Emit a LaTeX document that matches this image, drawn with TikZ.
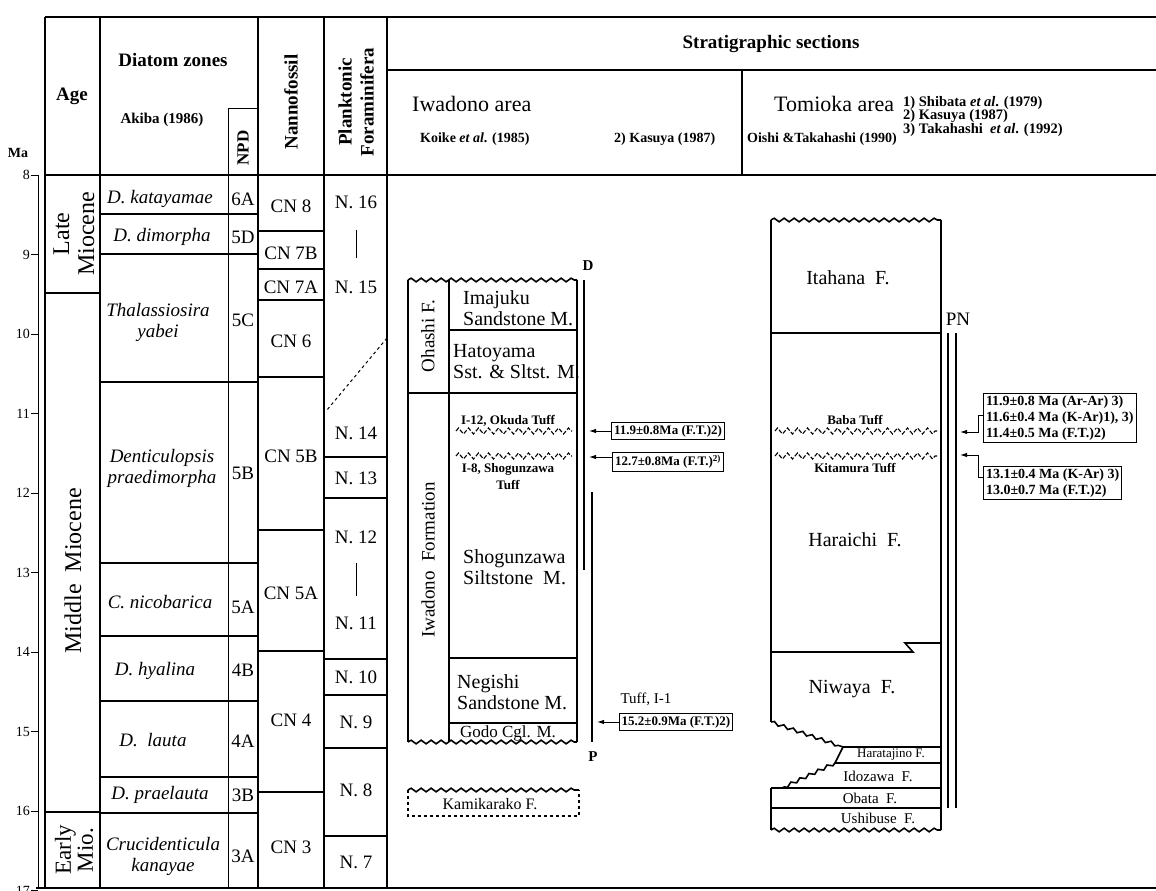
\documentclass[tikz,border=0pt]{standalone}
\usepackage{fontspec}
\setmainfont{Liberation Serif}
\usetikzlibrary{arrows.meta,decorations.pathmorphing,positioning}
\newcommand\fs[2]{\fontsize{#1}{#2}\selectfont}

\begin{document}
\begin{tikzpicture}[x=1pt,y=-1pt,
    frame/.style={line width=2.6pt},
    cell/.style={line width=1.6pt},
    thin/.style={line width=1pt},
    hd/.style={font=\fs{19}{22}\bfseries,align=center,inner sep=0pt},
    ref/.style={font=\fs{14}{13.5}\bfseries,align=left,inner sep=0pt},
    agetxt/.style={rotate=90,font=\fs{24}{25},align=center,inner sep=0pt},
    zone/.style={font=\fs{19}{21},align=center,inner sep=0pt},
    zit/.style={zone,font=\fs{19}{21}\itshape},
    fm/.style={font=\fs{20}{21},align=left,inner sep=0pt},
    tf/.style={font=\fs{13}{17}\bfseries,align=center,inner sep=0pt},
    datebox/.style={draw,line width=1pt,font=\fs{13}{15}\bfseries,align=left,inner sep=2.5pt},
    arr/.style={-{Latex[length=7pt,width=4.5pt]},line width=1pt},
    wavy/.style={decorate,decoration={snake,segment length=10pt,amplitude=1.8pt}},
    tuff/.style={decorate,decoration={zigzag,segment length=10pt,amplitude=3pt},
                 dash pattern=on 4.2pt off 2pt,line width=1.1pt}
  ]
  \useasboundingbox (0,0) rectangle (1156,891);

  % frame and columns
  \draw[frame] (45,17) -- (1156,17);
  \draw[frame] (45,17) -- (45,888);
  \draw[frame] (36,888) -- (1156,888);
  \draw[thin] (38,175) -- (38,888);
  \draw[cell] (45,175) -- (1156,175);
  \foreach \x in {100,258,324,387}
    \draw[cell] (\x,17) -- (\x,888);
  \draw[thin] (228,108) -- (258,108);
  \draw[thin] (228,108) -- (228,888);
  \draw[cell] (387,70) -- (1156,70);
  \draw[cell] (742,70) -- (742,175);

  % time axis
  \node[font=\fs{14}{14}\bfseries] (Ma) at (18,153) {Ma};
  \foreach \m in {8,...,17} {
    \draw[thin] (31,{175+(\m-8)*79.5}) -- (38,{175+(\m-8)*79.5});
    \node[anchor=east,font=\fs{14}{14},inner sep=1pt] (T\m) at (31,{175+(\m-8)*79.5}) {\m};
  }

  % headers
  \node[hd] (Hage) at (72,96) {Age};
  \node[hd] (Hdia) at (173,60) {Diatom zones};
  \node[font=\fs{15}{15}\bfseries] (Hakb) at (162,120) {Akiba (1986)};
  \node[hd,rotate=90,font=\fs{17}{17}\bfseries] (Hnpd) at (243,148) {NPD};
  \node[hd,rotate=90] (Hnan) at (291,102) {Nannofossil};
  \node[hd,rotate=90] (Hfor) at (356,102) {Planktonic\\Foraminifera};
  \node[hd] (Hsec) at (771,44) {Stratigraphic sections};
  \node[font=\fs{22}{22},anchor=west,inner sep=0pt] (Hiwa) at (412,104) {Iwadono area};
  \node[ref,anchor=west] (Rkoi) at (420,139) {Koike \textit{et al}. (1985)};
  \node[ref,anchor=west] (Rkas) at (614,139) {2) Kasuya (1987)};
  \node[font=\fs{22}{22},anchor=west,inner sep=0pt] (Htom) at (774,104) {Tomioka area};
  \node[ref,anchor=west] (Roi) at (747,139) {Oishi \&Takahashi (1990)};
  \node[ref,anchor=north west,font=\fs{14.5}{13.5}\bfseries] (Rlist) at (903,96)
    {1) Shibata \textit{et al}. (1979)\\2) Kasuya (1987)\\3) Takahashi \ \textit{et al}. (1992)};

  % age
  \draw[cell] (45,293) -- (100,293);
  \draw[cell] (45,812) -- (100,812);
  \node[agetxt] (Late) at (74,234) {Late\\Miocene};
  \node[agetxt] (Mid) at (73,571) {Middle~~Miocene};
  \node[agetxt,font=\fs{23}{22}] (Early) at (74,850) {Early\\Mio.};

  % diatom zones
  \foreach \y in {214,254,382,563,636,701,777,813}
    \draw[cell] (100,\y) -- (258,\y);
  \node[zit] (Dkat) at (160,199) {D. katayamae};
  \node[zit] (Ddim) at (162,237) {D. dimorpha};
  \node[zit] (Dtha) at (158,322) {Thalassiosira\\yabei};
  \node[zit] (Dden) at (162,468) {Denticulopsis\\praedimorpha};
  \node[zit] (Dnic) at (160,602) {C. nicobarica};
  \node[zit] (Dhya) at (155,671) {D. hyalina};
  \node[zit] (Dlau) at (153,740) {D.\ \ lauta};
  \node[zit] (Dpra) at (160,795) {D. praelauta};
  \node[zit] (Dkan) at (163,856) {Crucidenticula\\kanayae};
  \foreach \y/\z in {199/6A,237/5D,320/5C,473/5B,607/5A,670/4B,741/4A,795/3B,856/3A}
    \node[zone] (Z\z) at (243,\y) {\z};

  % nannofossil zones
  \foreach \y in {231,269,300,377,530,651,792}
    \draw[cell] (258,\y) -- (324,\y);
  \foreach \y/\z in {206/8,253/7B,287/7A,341/6,456/5B,593/5A,720/4,847/3}
    \node[zone] (CN\z) at (291,\y) {CN \z};

  % planktonic foraminifera
  \foreach \y in {457,498,659,695,748,836}
    \draw[cell] (324,\y) -- (387,\y);
  \foreach \y/\z in {202/16,287/15,433/14,478/13,537/12,623/11,677/10,722/9,790/8,862/7}
    \node[zone] (N\z) at (356,\y) {N. \z};
  \draw[thin] (356,230) -- (356,258);
  \draw[thin] (356,563) -- (356,596);
  \draw[thin,dashed] (387,338) -- (327,410);

  % Iwadono section
  \draw[cell,wavy] (408,280) -- (577,280);
  \draw[cell,wavy] (408,742) -- (577,742);
  \draw[cell] (408,280) -- (408,742);
  \draw[cell] (449,280) -- (449,742);
  \draw[cell] (577,280) -- (577,742);
  \draw[cell] (449,330) -- (577,330);
  \draw[cell] (408,393) -- (577,393);
  \draw[cell] (449,658) -- (577,658);
  \draw[cell] (449,723) -- (577,723);
  \node[fm,rotate=90,font=\fs{19}{19}] (Ohashi) at (428,336) {Ohashi F.};
  \node[fm,rotate=90,font=\fs{19}{19}] (IwaF) at (428,560) {Iwadono~~Formation};
  \node[fm,anchor=west] (Ima) at (463,308) {Imajuku\\Sandstone M.};
  \node[fm,anchor=west] (Hato) at (453,362) {Hatoyama\\Sst. \& Sltst. M.};
  \node[tf] (Oku) at (508,421) {I-12, Okuda Tuff};
  \draw[tuff] (456,431) -- (572,431);
  \draw[tuff] (456,456) -- (572,456);
  \node[tf] (Sho) at (508,477) {I-8, Shogunzawa\\Tuff};
  \node[fm,anchor=west] (Shog) at (463,567) {Shogunzawa\\Siltstone\ \ M.};
  \node[fm,anchor=west] (Neg) at (457,692) {Negishi\\Sandstone M.};
  \node[fm,font=\fs{17}{17}] (Godo) at (508,733) {Godo Cgl. M.};
  % ranges
  \draw[cell] (584,280) -- (584,570);
  \draw[cell] (592,492) -- (592,742);
  \node[font=\fs{15}{15}\bfseries] (D) at (588,266) {D};
  \node[font=\fs{15}{15}\bfseries] (P) at (593,757) {P};
  % dates
  \node[datebox] (I12) at (668,431) {11.9±0.8Ma (F.T.)2)};
  \node[datebox] (I8) at (668,462) {12.7±0.8Ma (F.T.)\textsuperscript{2)}};
  \node[font=\fs{15}{15}] (TI1) at (646,699) {Tuff, I-1};
  \node[datebox] (I1) at (676,722) {15.2±0.9Ma (F.T.)2)};
  \coordinate (aI12) at (589,431);
  \coordinate (aI8) at (589,457);
  \coordinate (aI1) at (597,722);
  \draw[arr] (I12.west) -- (aI12);
  \draw[arr] (I8.west |- aI8) -- (aI8);
  \draw[arr] (I1.west) -- (aI1);
  % Kamikarako
  \draw[cell,wavy] (408,790) -- (579,790);
  \draw[cell,dashed] (408,790) -- (408,816) -- (579,816) -- (579,790);
  \node[fm,font=\fs{16}{16}] (Kami) at (490,804) {Kamikarako F.};

  % Tomioka section
  \draw[cell,wavy] (771,220) -- (941,220);
  \draw[cell] (771,220) -- (771,722);
  \draw[cell] (941,220) -- (941,830);
  \draw[cell] (771,333) -- (941,333);
  \draw[cell] (771,652) -- (913,652) -- (905,643) -- (941,643);
  \draw[cell,decorate,decoration={snake,segment length=10pt,amplitude=1.6pt}] (771,722) -- (843,747);
  \draw[cell] (843,747) -- (941,747);
  \draw[cell] (843,747) -- (835,763) -- (941,763);
  \draw[cell,decorate,decoration={snake,segment length=10pt,amplitude=1.6pt}] (835,763) -- (782,788);
  \draw[cell] (771,788) -- (941,788);
  \draw[cell] (771,788) -- (771,830);
  \draw[cell] (771,808) -- (941,808);
  \draw[cell,wavy] (771,830) -- (941,830);
  \node[fm] (Ita) at (848,278) {Itahana~~F.};
  \node[tf] (Baba) at (855,420) {Baba~Tuff};
  \draw[tuff] (775,431) -- (937,431);
  \draw[tuff] (775,456) -- (937,456);
  \node[tf] (Kita) at (855,468) {Kitamura Tuff};
  \node[fm] (Har) at (855,540) {Haraichi~~F.};
  \node[fm] (Niw) at (852,689) {Niwaya~~F.};
  \node[fm,font=\fs{13}{13}] (Hara) at (891,755) {Haratajino F.};
  \node[fm,font=\fs{15}{15}] (Ido) at (878,776) {Idozawa~~F.};
  \node[fm,font=\fs{15}{15}] (Oba) at (870,798) {Obata~~F.};
  \node[fm,font=\fs{15}{15}] (Ush) at (878,818) {Ushibuse~~F.};
  % range
  \draw[cell] (948,333) -- (948,808);
  \draw[cell] (956,333) -- (956,808);
  \node[font=\fs{19}{19}] (PN) at (958,319) {PN};
  % dates
  \node[datebox,anchor=west,font=\fs{14}{16}\bfseries] (Tb) at (983,418)
    {11.9±0.8 Ma (Ar-Ar) 3)\\11.6±0.4 Ma (K-Ar)1), 3)\\11.4±0.5 Ma (F.T.)2)};
  \node[datebox,anchor=west,font=\fs{14}{16}\bfseries] (Tk) at (983,483)
    {13.1±0.4 Ma (K-Ar) 3)\\13.0±0.7 Ma (F.T.)2)};
  \coordinate (aTb) at (960,432);
  \coordinate (aTk) at (960,455);
  \draw[arr] ([yshift=3pt]Tb.west) -- ++(-5,0) |- (aTb);
  \draw[arr] ([yshift=6pt]Tk.west) -- ++(-5,0) |- (aTk);
\end{tikzpicture}
\end{document}
